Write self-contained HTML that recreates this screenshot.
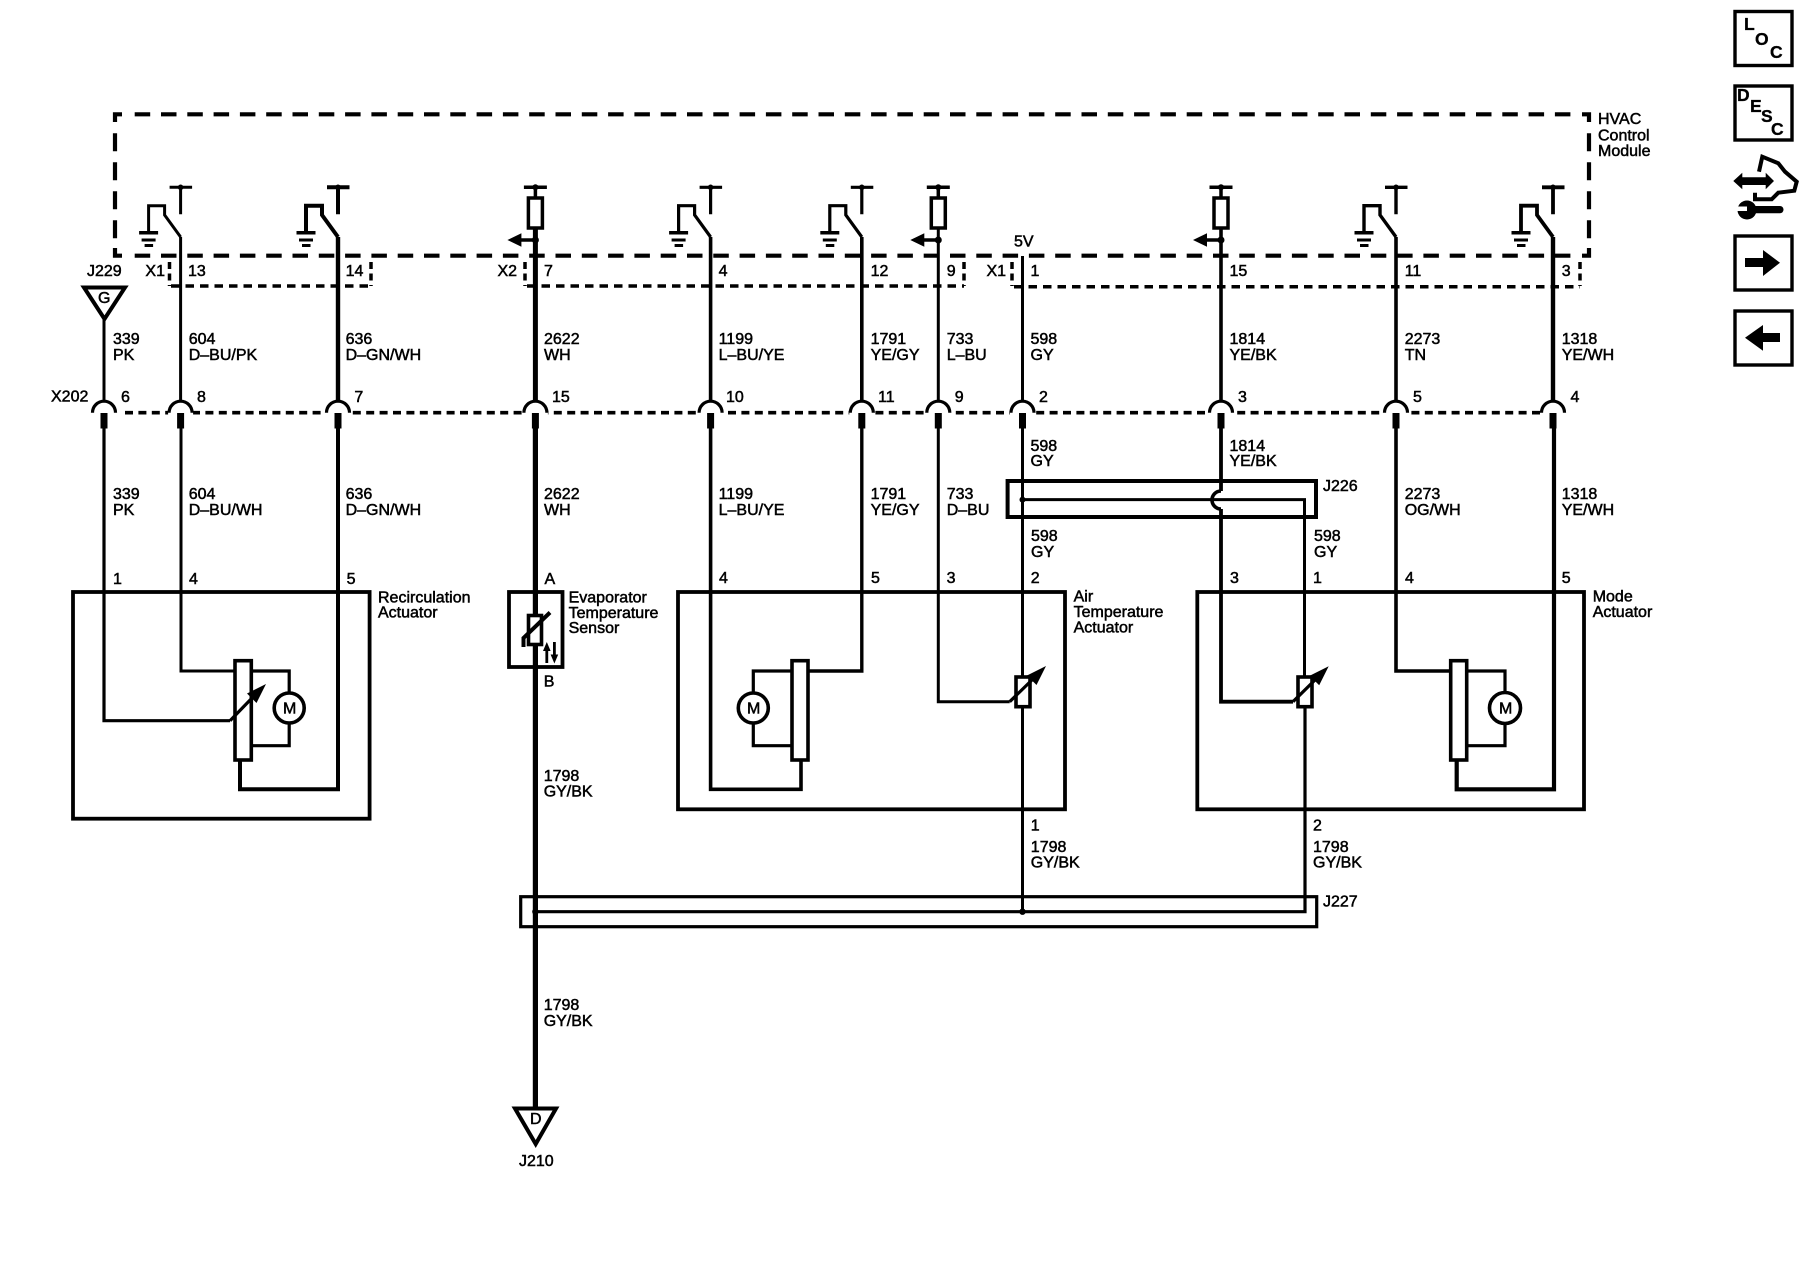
<!DOCTYPE html>
<html><head><meta charset="utf-8"><title>HVAC Control Module schematic</title>
<style>
html,body{margin:0;padding:0;background:#fff}
svg{display:block}
text{font-family:"Liberation Sans",sans-serif;font-size:16px;fill:#000;stroke:#000;stroke-width:.5px}
.w{fill:none;stroke:#000;stroke-linejoin:miter}
.b{font-weight:bold;font-size:17.5px;stroke-width:.3px}
</style></head><body>
<svg width="1800" height="1280" viewBox="0 0 1800 1280" xmlns="http://www.w3.org/2000/svg">
<defs>
<g id="sw">
<path class="w" d="M-11,187.3H11.5M0,187.3V214.3M0,237L-16,215V205.7H-32V232.7"/>
<circle cx="0" cy="187.3" r="2.8"/>
<rect x="-41.5" y="231" width="19" height="3.5"/><rect x="-39" y="238.5" width="14" height="3"/><rect x="-36" y="244" width="8.5" height="3"/>
</g>
<g id="fu">
<path class="w" stroke-width="3.5" d="M-11.5,187.3H11.5M0,187.3V198M0,240H-15"/>
<circle cx="0" cy="187.3" r="3"/>
<rect x="-7" y="198" width="14" height="30" fill="#fff" stroke="#000" stroke-width="3.5"/>
<polygon points="-14,233.3 -28,240 -14,246.7"/>
<circle cx="0" cy="240" r="3.5"/>
</g>
<g id="cn">
<rect x="-12.5" y="408" width="25" height="8" fill="#fff"/>
<path d="M-11.5,412.7A11.5,11.5 0 0 1 11.5,412.7" fill="none" stroke="#000" stroke-width="3.2"/>
<rect x="-3.5" y="413" width="7" height="15.5"/>
</g>
</defs>

<!-- module outline -->
<path class="w" stroke-width="4.2" stroke-dasharray="15.5 10.8" d="M134.7,114.3H1575M134.7,255.7H1575"/>
<path class="w" stroke-width="4.2" stroke-dasharray="18 11" d="M115,133.3V248M1589,133.3V248"/>
<path class="w" stroke-width="4.2" d="M122,114.3H115V122M122,255.7H115V248M1582,114.3H1589V122M1582,255.7H1589V248"/>

<!-- pin dashed rows -->
<path class="w" stroke-width="3.5" stroke-dasharray="8.5 6" d="M171,286H370.5M527,286H964M1014,286.7H1580"/>
<path class="w" stroke-width="3.5" stroke-dasharray="7 4.5" d="M169.5,262V286M371,262V286M525,262V286M964,262V286M1012,262V286M1580,262V286"/>
<!-- X202 row -->
<path class="w" stroke-width="3.6" stroke-dasharray="8 5.4" d="M125,412.7H1540.5"/>

<!-- top wires -->
<g class="w">
<path stroke-width="3" d="M104,318V402"/>
<path stroke-width="3" d="M180.6,237V402"/>
<path stroke-width="4.4" d="M338,237V402"/>
<path stroke-width="5" d="M535.4,228V402"/>
<path stroke-width="3.6" d="M710.6,237V402"/>
<path stroke-width="3.6" d="M861.8,237V402"/>
<path stroke-width="3" d="M938.3,228V402"/>
<path stroke-width="3" d="M1022.5,256V402"/>
<path stroke-width="3.6" d="M1221,228V402"/>
<path stroke-width="3.6" d="M1396,237V402"/>
<path stroke-width="4.4" d="M1553,237V402"/>
</g>
<use href="#sw" x="180.6" stroke-width="3"/>
<use href="#sw" x="338" stroke-width="4"/>
<use href="#sw" x="710.6" stroke-width="3.2"/>
<use href="#sw" x="861.8" stroke-width="3.2"/>
<use href="#sw" x="1396" stroke-width="3.4"/>
<use href="#sw" x="1553" stroke-width="3.8"/>
<use href="#fu" x="535.4"/><use href="#fu" x="938.3"/><use href="#fu" x="1221"/>

<use href="#cn" x="104"/><use href="#cn" x="180.6"/><use href="#cn" x="338"/><use href="#cn" x="535.4"/><use href="#cn" x="710.6"/><use href="#cn" x="861.8"/><use href="#cn" x="938.3"/><use href="#cn" x="1022.5"/><use href="#cn" x="1221"/><use href="#cn" x="1396"/><use href="#cn" x="1553"/>

<!-- boxes -->
<g class="w" stroke-width="3.8">
<rect x="73" y="592" width="296.6" height="226.7"/>
<rect x="509" y="592" width="53.5" height="75"/>
<rect x="678" y="592" width="387" height="217.3"/>
<rect x="1197.3" y="592" width="386.7" height="217.3"/>
</g>
<!-- J226 / J227 -->
<rect x="1007.6" y="481" width="308.4" height="36" class="w" stroke-width="4"/>
<rect x="520.7" y="896.7" width="796" height="30" class="w" stroke-width="3.2"/>
<path class="w" stroke-width="3" d="M1022.5,499.6H1304.5V700"/>
<path class="w" stroke-width="3.2" d="M535.4,911.7H1305V700"/>

<!-- lower wires -->
<g class="w">
<path stroke-width="3.2" d="M104,428V720.7H230"/>
<path stroke-width="3" d="M181,428V671H236"/>
<path stroke-width="4" d="M338,428V789.3H240V760"/>
<path stroke-width="5.2" d="M535.4,428V1107"/>
<path stroke-width="3.6" d="M710.6,428V789.3H801V760"/>
<path stroke-width="3.4" d="M861.8,428V671H808"/>
<path stroke-width="3" d="M938.3,428V701.7H1009.7"/>
<path stroke-width="3" d="M1022.5,428V911.7"/>
<path stroke-width="3.8" d="M1221,428V491M1221,509V701.7H1293"/>
<path stroke-width="3.6" d="M1396,428V671H1451"/>
<path stroke-width="4.2" d="M1554,428V789.3H1456.7V760"/>
</g>
<!-- J226 hop -->
<rect x="1218" y="491" width="6" height="6" fill="#fff"/><rect x="1218" y="503" width="6" height="6" fill="#fff"/>
<path class="w" stroke-width="3.6" d="M1221,491A9,9 0 0 0 1221,509"/>
<circle cx="1022.5" cy="499.6" r="3"/><circle cx="1022.5" cy="911.7" r="3.2"/><circle cx="535.4" cy="911.7" r="3.2"/>

<!-- motor sub circuits -->
<g class="w" stroke-width="3.2">
<path d="M251,671H289.2V745.7H251"/>
<path d="M792,671H753.3V745.7H792"/>
<path d="M1466,671H1505V745.7H1466"/>
</g>
<g fill="#fff" stroke="#000" stroke-width="3.6">
<rect x="235" y="660.7" width="16.3" height="99.3"/>
<rect x="792" y="660.7" width="16" height="99.3"/>
<rect x="1450.7" y="660.7" width="16" height="99.3"/>
<circle cx="289.2" cy="708" r="15"/>
<circle cx="753.3" cy="708" r="15"/>
<circle cx="1505" cy="708" r="15.5"/>
<rect x="1016" y="677" width="14" height="29.7"/>
<rect x="1298" y="677" width="14" height="29.7"/>
<rect x="528.5" y="615.5" width="13" height="29"/>
</g>
<g class="w" stroke-width="3.2">
<path d="M230,720.7L253,697"/>
<path d="M1009.7,701.7L1033,679"/>
<path d="M1293,701.7L1316,679"/>
<path stroke-width="4" d="M523.5,647V638L550,612.5"/>
<path stroke-width="2.8" d="M546.8,663V648M554.4,642V657"/>
</g>
<polygon points="266,684 256.5,703 247,693.5"/>
<polygon points="1046,666 1036.5,685 1027,675.5"/>
<polygon points="1328.7,666.3 1319.2,685.3 1309.7,675.8"/>
<polygon points="546.8,642 543,651 550.6,651"/><polygon points="554.4,663.5 550.6,654.5 558.2,654.5"/>

<!-- grounds -->
<polygon points="84,287.5 125,287.5 104.5,319" fill="#fff" stroke="#000" stroke-width="4"/>
<polygon points="515,1108.5 556,1108.5 535.7,1144" fill="#fff" stroke="#000" stroke-width="4"/>

<!-- labels -->
<text x="1598" y="124">HVAC</text><text x="1598" y="140.5">Control</text><text x="1598" y="156">Module</text>
<text x="87" y="276">J229</text><text x="98" y="303">G</text>
<text x="145.4" y="276">X1</text><text x="188" y="276">13</text><text x="345.6" y="276">14</text>
<text x="497.5" y="276">X2</text><text x="544" y="276">7</text><text x="718.6" y="276">4</text>
<text x="870.6" y="276">12</text><text x="946.7" y="276">9</text><text x="986.5" y="276">X1</text>
<text x="1030.5" y="276">1</text><text x="1014" y="246.7">5V</text>
<text x="1229.5" y="276">15</text><text x="1404.7" y="276">11</text><text x="1561.7" y="276">3</text>

<text x="113" y="344">339</text><text x="113" y="360">PK</text>
<text x="188.7" y="344">604</text><text x="188.7" y="360">D–BU/PK</text>
<text x="345.6" y="344">636</text><text x="345.6" y="360">D–GN/WH</text>
<text x="544" y="344">2622</text><text x="544" y="360">WH</text>
<text x="718.6" y="344">1199</text><text x="718.6" y="360">L–BU/YE</text>
<text x="870.6" y="344">1791</text><text x="870.6" y="360">YE/GY</text>
<text x="946.7" y="344">733</text><text x="946.7" y="360">L–BU</text>
<text x="1030.5" y="344">598</text><text x="1030.5" y="360">GY</text>
<text x="1229.5" y="344">1814</text><text x="1229.5" y="360">YE/BK</text>
<text x="1404.7" y="344">2273</text><text x="1404.7" y="360">TN</text>
<text x="1561.7" y="344">1318</text><text x="1561.7" y="360">YE/WH</text>

<text x="51" y="401.7">X202</text><text x="121" y="402">6</text><text x="197" y="402">8</text><text x="354.4" y="402">7</text>
<text x="552" y="402">15</text><text x="726" y="402">10</text><text x="878" y="402">11</text><text x="954.8" y="402">9</text>
<text x="1039" y="402">2</text><text x="1238" y="402">3</text><text x="1413" y="402">5</text><text x="1570.5" y="402">4</text>

<text x="1030.5" y="451">598</text><text x="1030.5" y="466">GY</text>
<text x="1229.5" y="451">1814</text><text x="1229.5" y="466">YE/BK</text>

<text x="113" y="499">339</text><text x="113" y="515">PK</text>
<text x="188.7" y="499">604</text><text x="188.7" y="515">D–BU/WH</text>
<text x="345.6" y="499">636</text><text x="345.6" y="515">D–GN/WH</text>
<text x="544" y="499">2622</text><text x="544" y="515">WH</text>
<text x="718.6" y="499">1199</text><text x="718.6" y="515">L–BU/YE</text>
<text x="870.6" y="499">1791</text><text x="870.6" y="515">YE/GY</text>
<text x="946.7" y="499">733</text><text x="946.7" y="515">D–BU</text>
<text x="1404.7" y="499">2273</text><text x="1404.7" y="515">OG/WH</text>
<text x="1561.7" y="499">1318</text><text x="1561.7" y="515">YE/WH</text>
<text x="1323" y="491">J226</text>
<text x="1031" y="541">598</text><text x="1031" y="557">GY</text>
<text x="1314" y="541">598</text><text x="1314" y="557">GY</text>

<text x="113" y="584">1</text><text x="189" y="584">4</text><text x="346.6" y="584">5</text>
<text x="544.5" y="584">A</text><text x="543.7" y="686.7">B</text>
<text x="719" y="583">4</text><text x="871" y="583">5</text><text x="946.6" y="583">3</text><text x="1030.8" y="583">2</text>
<text x="1230" y="583">3</text><text x="1313" y="583">1</text><text x="1405" y="583">4</text><text x="1561.7" y="583">5</text>

<text x="378" y="602.3">Recirculation</text><text x="378" y="617.6">Actuator</text>
<text x="568.6" y="602.3">Evaporator</text><text x="568.6" y="618">Temperature</text><text x="568.6" y="633">Sensor</text>
<text x="1073.6" y="601.7">Air</text><text x="1073.6" y="617">Temperature</text><text x="1073.6" y="632.6">Actuator</text>
<text x="1592.7" y="601.7">Mode</text><text x="1592.7" y="617">Actuator</text>

<text x="283" y="713.5">M</text><text x="747" y="713.5">M</text><text x="1499" y="713.5">M</text>

<text x="543.7" y="781">1798</text><text x="543.7" y="796.7">GY/BK</text>
<text x="1030.8" y="830.7">1</text><text x="1030.8" y="852">1798</text><text x="1030.8" y="867.7">GY/BK</text>
<text x="1313" y="830.7">2</text><text x="1313" y="852">1798</text><text x="1313" y="867.7">GY/BK</text>
<text x="1323" y="906.7">J227</text>
<text x="543.7" y="1010">1798</text><text x="543.7" y="1026">GY/BK</text>
<text x="530" y="1124">D</text><text x="519" y="1166">J210</text>

<!-- side icons -->
<g class="w" stroke-width="3.4">
<rect x="1735" y="11.5" width="57" height="54"/>
<rect x="1735" y="86" width="57" height="54"/>
<rect x="1735" y="236" width="57" height="54"/>
<rect x="1735" y="311" width="57" height="54"/>
</g>
<text class="b" x="1744" y="30">L</text><text class="b" x="1755" y="45">O</text><text class="b" x="1770" y="58">C</text>
<text class="b" x="1737" y="101">D</text><text class="b" x="1750" y="112">E</text><text class="b" x="1761" y="122">S</text><text class="b" x="1771" y="135">C</text>
<polygon points="1745,258 1763,258 1763,250 1780,262.7 1763,276 1763,267 1745,267"/>
<polygon points="1780,333 1763,333 1763,325 1745,337.7 1763,350.7 1763,342 1780,342"/>
<!-- tool icon -->
<polygon points="1733.3,181 1742.3,172.7 1742.3,177.3 1765.7,177.3 1765.7,172.7 1774,181 1765.7,189.3 1765.7,185 1742.3,185 1742.3,189.3"/>
<path class="w" stroke-width="4" d="M1759,171.7L1762.3,156.7L1778.3,163.3L1785,171.7L1796.7,181.7L1794.3,190.7L1778.3,192.7L1771.7,199.3H1755V192.7"/>
<rect x="1748" y="206" width="35.5" height="7.3" rx="3.5"/>
<circle cx="1747" cy="210" r="9.5"/>
<rect x="1737" y="206.5" width="10" height="4.5" fill="#fff"/>
</svg>
</body></html>
